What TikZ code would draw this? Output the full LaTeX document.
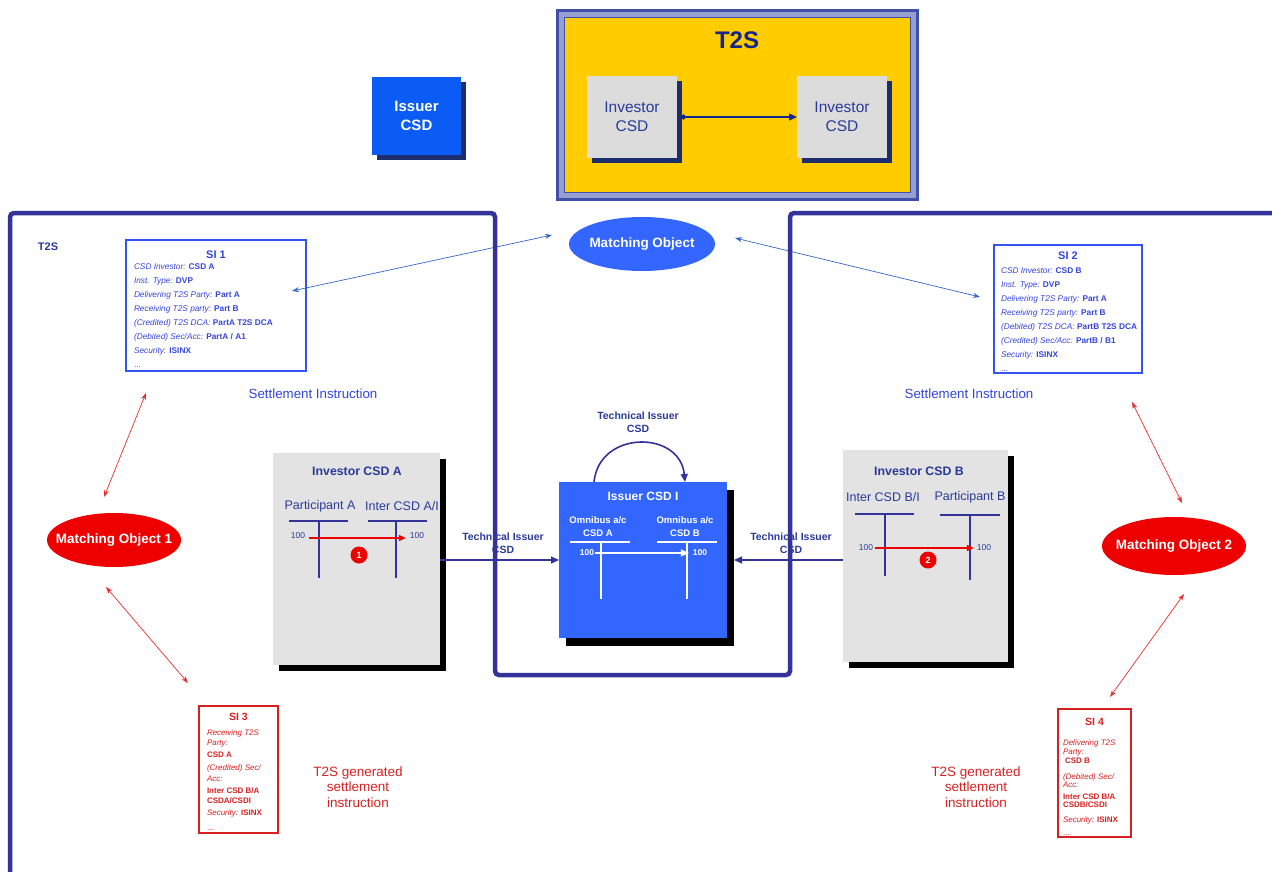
\documentclass[tikz,border=0pt]{standalone}
\usepackage{fontspec}
\setmainfont{Liberation Sans}
\usetikzlibrary{arrows.meta,shapes.geometric,shadows}
\definecolor{navy}{HTML}{333399}
\definecolor{tnavy}{HTML}{2B3A98}
\definecolor{dnavy}{HTML}{1C2E6E}
\definecolor{bblue}{HTML}{3366FF}
\definecolor{iblue}{HTML}{0A5CF5}
\definecolor{gold}{HTML}{FFCC00}
\definecolor{lgray}{HTML}{E3E3E3}
\definecolor{tgray}{HTML}{DCDCDC}
\definecolor{siblue}{HTML}{3355EE}
\definecolor{sitext}{HTML}{3344DD}
\definecolor{sired}{HTML}{D82020}
\definecolor{mred}{HTML}{EE0000}
\definecolor{arrblue}{HTML}{3366CC}
\definecolor{arrred}{HTML}{E53030}
\definecolor{frblue}{HTML}{4050A8}
\begin{document}
\begin{tikzpicture}[x=1pt,y=-1pt,
  every node/.style={inner sep=0pt, outer sep=0pt},
  frm/.style={draw=navy, line width=4.5pt, rounded corners=4pt},
  gbox/.style={fill=lgray, drop shadow={shadow xshift=6pt, shadow yshift=-6pt, fill=black, opacity=1}},
  tbox/.style={fill=tgray, minimum width=90, minimum height=82, drop shadow={shadow xshift=5pt, shadow yshift=-5pt, fill=dnavy, opacity=1}},
  navarr/.style={draw=navy, line width=1.2pt, -{Triangle[length=8pt,width=7pt]}},
  bluedbl/.style={draw=arrblue, line width=0.7pt, {Stealth[length=7pt,width=5pt]}-{Stealth[length=7pt,width=5pt]}},
  reddbl/.style={draw=arrred, line width=0.7pt, {Stealth[length=7pt,width=5pt]}-{Stealth[length=7pt,width=5pt]}},
  tline/.style={draw=navy, line width=1.3pt},
  wline/.style={draw=white, line width=1.3pt},
  redarr/.style={draw=mred, line width=1.3pt, -{Triangle[length=7pt,width=6pt]}},
  whitearr/.style={draw=white, line width=1.3pt, -{Triangle[length=8pt,width=7pt]}},
  numc/.style={circle, fill=mred, minimum size=17pt, text=white, font=\bfseries\fontsize{9}{10}\selectfont},
  lbl/.style={text=tnavy, font=\fontsize{12.5}{13}\selectfont},
  blbl/.style={text=tnavy, font=\bfseries\fontsize{12.3}{13}\selectfont},
  sml/.style={text=tnavy, font=\fontsize{8.5}{9}\selectfont},
  wsml/.style={text=white, font=\bfseries\fontsize{8.5}{9}\selectfont},
  tech/.style={text=tnavy, align=center, font=\bfseries\fontsize{10.5}{12.5}\selectfont},
  sibox/.style={draw=siblue, line width=1.2pt},
  rbox/.style={draw=sired, line width=1.2pt},
  sititle/.style={text=sitext, font=\bfseries\fontsize{11}{12}\selectfont},
  rtitle/.style={text=sired, font=\bfseries\fontsize{10.5}{12}\selectfont},
  sitxt/.style={text=sitext, align=left, anchor=north west, font=\fontsize{8.3}{14}\selectfont},
  rtxt/.style={text=sired, align=left, anchor=north west, font=\fontsize{8}{10.5}\selectfont},
  mobj/.style={ellipse, inner xsep=-12pt, fill=bblue, text=white, font=\bfseries\fontsize{13.5}{14}\selectfont},
  mred/.style={ellipse, inner xsep=-12pt, fill=mred, text=white, font=\bfseries\fontsize{13.5}{14}\selectfont}
]
\useasboundingbox (0,0) rectangle (1272,872);

% ---------- T2S top box ----------
\filldraw[fill=frblue!55!white, draw=frblue, line width=3pt] (557,11) rectangle (917,199);
\node[fill=gold, draw=frblue, line width=1pt, minimum width=346, minimum height=174] (t2s) at (737,105) {};
\node[text=dnavy!80!blue, font=\bfseries\fontsize{24}{26}\selectfont] (t2st) at (737,40) {T2S};
\node[tbox, text=tnavy, align=center, font=\fontsize{15.5}{19}\selectfont] (ic1) at (632,117) {Investor\\CSD};
\node[tbox, text=tnavy, align=center, font=\fontsize{15.5}{19}\selectfont] (ic2) at (842,117) {Investor\\CSD};
\draw[draw=dnavy!80!blue, line width=1.5pt, {Circle[length=5pt]}-{Triangle[length=8pt,width=7pt]}] ([xshift=4pt]ic1.east) -- (ic2.west);

% ---------- Issuer CSD ----------
\node[fill=iblue, minimum width=89, minimum height=78, text=white, align=center,
      font=\bfseries\fontsize{15}{19}\selectfont,
      drop shadow={shadow xshift=5pt, shadow yshift=-5pt, fill=dnavy, opacity=1}] (iss) at (416.5,116) {Issuer\\CSD};

% ---------- SI 1 ----------
\node[sibox, minimum width=180, minimum height=131] (si1) at (216,305.5) {};
\node[sititle] (si1t) at (216,255) {SI 1};
\node[sitxt] (si1x) at (134,263.5) {\textit{CSD Investor:} \textbf{CSD A}\\
\textit{Inst. Type:} \textbf{DVP}\\
\textit{Delivering T2S Party:} \textbf{Part A}\\
\textit{Receiving T2S party:} \textbf{Part B}\\
\textit{(Credited) T2S DCA:} \textbf{PartA T2S DCA}\\
\textit{(Debited) Sec/Acc:} \textbf{PartA / A1}\\
\textit{Security:} \textbf{ISINX}\\
...};

% ---------- SI 2 ----------
\node[sibox, minimum width=148, minimum height=128] (si2) at (1068,309) {};
\node[sititle] (si2t) at (1068,256) {SI 2};
\node[sitxt] (si2x) at (1001,268) {\textit{CSD Investor:} \textbf{CSD B}\\
\textit{Inst. Type:} \textbf{DVP}\\
\textit{Delivering T2S Party:} \textbf{Part A}\\
\textit{Receiving T2S party:} \textbf{Part B}\\
\textit{(Debited) T2S DCA:} \textbf{PartB T2S DCA}\\
\textit{(Credited) Sec/Acc:} \textbf{PartB / B1}\\
\textit{Security:} \textbf{ISINX}\\
...};

\node[text=sitext, font=\fontsize{13.3}{14}\selectfont] (set1) at (313,394) {Settlement Instruction};
\node[text=sitext, font=\fontsize{13.3}{14}\selectfont] (set2) at (969,394) {Settlement Instruction};

% ---------- Matching objects ----------
\node[mobj, minimum width=146, minimum height=54] (mo) at (642,244) {Matching Object};
\node[mred, minimum width=134, minimum height=54] (mo1) at (114,540) {Matching Object 1};
\node[mred, minimum width=144, minimum height=58] (mo2) at (1174,546) {Matching Object 2};

\coordinate (b1a) at (292,291); \coordinate (b1b) at (552,235);
\coordinate (b2a) at (735,238); \coordinate (b2b) at (980,297);
\draw[bluedbl] (b1a) -- (b1b);
\draw[bluedbl] (b2a) -- (b2b);

\coordinate (r1a) at (146,393); \coordinate (r1b) at (104,497);
\coordinate (r2a) at (106,587); \coordinate (r2b) at (188,683);
\coordinate (r3a) at (1132,402); \coordinate (r3b) at (1182,503);
\coordinate (r4a) at (1184,594); \coordinate (r4b) at (1110,697);
\draw[reddbl] (r1a) -- (r1b);
\draw[reddbl] (r2a) -- (r2b);
\draw[reddbl] (r3a) -- (r3b);
\draw[reddbl] (r4a) -- (r4b);

% ---------- SI 3 ----------
\node[rbox, minimum width=79, minimum height=127] (si3) at (238.5,769.5) {};
\node[rtitle] (si3t) at (238.5,717) {SI 3};
\node[rtxt] (si3x) at (207,729.5) {\textit{Receiving T2S}\\
\textit{Party:}\\[1.5pt]
\textbf{CSD A}\\[2.5pt]
\textit{(Credited) Sec/}\\
\textit{Acc:}\\[1.5pt]
\textbf{Inter CSD B/A}\\
\textbf{CSDA/CSDI}\\[1.5pt]
\textit{Security:} \textbf{ISINX}\\[4pt]
...};

% ---------- SI 4 ----------
\node[rbox, minimum width=73, minimum height=128] (si4) at (1094.5,773) {};
\node[rtitle] (si4t) at (1094.5,722) {SI 4};
\node[rtxt, font=\fontsize{8}{9}\selectfont] (si4x) at (1063,739.5) {\textit{Delivering T2S}\\
\textit{Party:}\\
\hspace*{2pt}\textbf{CSD B}\\[7pt]
\textit{(Debited) Sec/}\\[-1pt]
\textit{Acc:}\\[3pt]
\textbf{Inter CSD B/A}\\[-1pt]
\textbf{CSDB/CSDI}\\[6pt]
\textit{Security:} \textbf{ISINX}\\[4pt]
...};

\node[text=sired, align=center, font=\fontsize{13.5}{15.5}\selectfont] (gen1) at (358,787) {T2S generated\\settlement\\instruction};
\node[text=sired, align=center, font=\fontsize{13.5}{15.5}\selectfont] (gen2) at (976,787) {T2S generated\\settlement\\instruction};

% ---------- Investor CSD A ----------
\node[gbox, minimum width=167, minimum height=212] (invA) at (356.5,559) {};
\node[blbl] (invAt) at (357,471) {Investor CSD A};
\node[lbl] (partA) at (320,506) {Participant A};
\node[lbl] (icAI) at (402,506) {Inter CSD A/I};
\draw[tline] (289,521) -- (348,521) (319,521) -- (319,578);
\draw[tline] (368,521) -- (427,521) (396,521) -- (396,578);
\node[sml] (a1) at (298,536) {100};
\node[sml] (a2) at (417,536) {100};
\draw[redarr] ([xshift=4pt,yshift=-2pt]a1.east) -- ([xshift=-4pt,yshift=-2pt]a2.west);
\node[numc] (n1) at (359,555) {1};

% ---------- Issuer CSD I ----------
\node[fill=bblue, minimum width=168, minimum height=156,
      drop shadow={shadow xshift=7pt, shadow yshift=-8pt, fill=black, opacity=1}] (issI) at (643,560) {};
\node[text=white, font=\bfseries\fontsize{12}{13}\selectfont] (issIt) at (643,496) {Issuer CSD I};
\node[text=white, align=center, font=\bfseries\fontsize{9.5}{13}\selectfont] (omA) at (598,527) {Omnibus a/c\\CSD A};
\node[text=white, align=center, font=\bfseries\fontsize{9.5}{13}\selectfont] (omB) at (685,527) {Omnibus a/c\\CSD B};
\draw[wline] (570,542) -- (630,542) (601,542) -- (601,599);
\draw[wline] (657,542) -- (717,542) (687,542) -- (687,599);
\node[wsml] (o1) at (587,553) {100};
\node[wsml] (o2) at (700,553) {100};
\draw[whitearr] ([xshift=1pt]o1.east) -- ([xshift=-4pt]o2.west);

\node[tech] (techT) at (638,422) {Technical Issuer\\CSD};
\draw[navarr, line width=1.6pt] ([xshift=-49pt]issI.north) .. controls +(5,-52) and +(-5,-52) .. ([xshift=42pt]issI.north);

% ---------- Investor CSD B ----------
\node[gbox, minimum width=165, minimum height=212] (invB) at (925.5,556) {};
\node[blbl] (invBt) at (919,471) {Investor CSD B};
\node[lbl] (icBI) at (883,497) {Inter CSD B/I};
\node[lbl] (partB) at (970,497) {Participant B};
\draw[tline] (855,514) -- (914,514) (885,514) -- (885,576);
\draw[tline] (940,515) -- (1000,515) (970,515) -- (970,580);
\node[sml] (b1) at (866,548) {100};
\node[sml] (b2) at (984,548) {100};
\draw[redarr] ([xshift=2pt]b1.east) -- ([xshift=-3pt]b2.west);
\node[numc] (n2) at (928,560) {2};

% ---------- connectors to Issuer CSD I ----------
\node[tech] (techL) at (503,543) {Technical Issuer\\CSD};
\node[tech] (techR) at (791,543) {Technical Issuer\\CSD};
\draw[navarr] (invA.east |- issI.west) -- (issI.west);
\draw[navarr] (invB.west |- issI.east) -- ([xshift=7pt]issI.east);

% ---------- frame ----------
\draw[frm] (10,875) -- (10,213) -- (495,213) -- (495,675) -- (790,675) -- (790,213) -- (1280,213);
\node[text=tnavy, font=\bfseries\fontsize{11}{12}\selectfont] (t2sl) at (48,247) {T2S};
\end{tikzpicture}
\end{document}
